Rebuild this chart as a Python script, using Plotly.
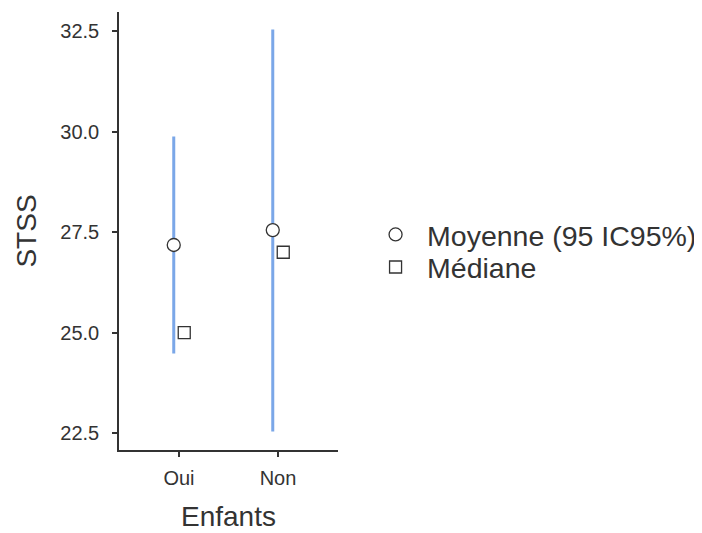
import plotly.graph_objects as go

categories = ["Oui", "Non"]
means = [27.18, 27.55]
ci_low = [24.52, 22.58]
ci_high = [29.84, 32.5]
medians = [25.0, 27.0]
y_ticks = [22.5, 25.0, 27.5, 30.0, 32.5]

pos = list(range(1, len(categories) + 1))
dodge = 0.053
x_mean = [p - dodge for p in pos]
x_med = [p + dodge for p in pos]

blue = "#7BA7E8"
dark = "#333333"
font = "Liberation Sans"

fig = go.Figure()
fig.add_trace(go.Scatter(
    x=x_mean, y=means, mode="markers",
    name="Moyenne (95 IC95%)", legend="legend",
    marker=dict(symbol="circle", size=13, color="white",
                line=dict(color=dark, width=1.3)),
    error_y=dict(type="data", symmetric=False,
                 array=[h - m for h, m in zip(ci_high, means)],
                 arrayminus=[m - l for m, l in zip(means, ci_low)],
                 color=blue, thickness=3, width=1.5),
))
fig.add_trace(go.Scatter(
    x=x_med, y=medians, mode="markers",
    name="Médiane", legend="legend2",
    marker=dict(symbol="square", size=12, color="white",
                line=dict(color=dark, width=1.3)),
))

leg_common = dict(x=1.119, xanchor="left", yanchor="middle",
                  font=dict(size=28.5, color=dark, family=font),
                  itemsizing="trace", itemwidth=53,
                  bgcolor="rgba(0,0,0,0)")

fig.update_layout(
    width=694, height=525,
    margin=dict(l=111, r=364, t=4, b=83, autoexpand=False),
    paper_bgcolor="white", plot_bgcolor="white",
    font=dict(family=font, color=dark),
    showlegend=True,
    legend=dict(y=0.491, **leg_common),
    legend2=dict(y=0.4167, **leg_common),
    xaxis=dict(range=[0.394, 2.606], tickvals=pos, ticktext=categories,
               showline=True, linecolor=dark, linewidth=1.5,
               ticks="outside", ticklen=5, tickwidth=1.5, tickcolor=dark,
               ticklabelstandoff=4,
               showgrid=False, zeroline=False,
               tickfont=dict(size=20, color=dark),
               title=dict(text="Enfants", font=dict(size=28, color=dark), standoff=19)),
    yaxis=dict(range=[22.085, 32.97], tickvals=y_ticks,
               ticktext=[f"{v:.1f}" for v in y_ticks],
               showline=True, linecolor=dark, linewidth=1.5,
               ticks="outside", ticklen=5, tickwidth=1.5, tickcolor=dark,
               ticklabelstandoff=9,
               showgrid=False, zeroline=False,
               tickfont=dict(size=20, color=dark),
               title=dict(text="STSS", font=dict(size=28, color=dark), standoff=16)),
)

fig.write_html("out.html")
